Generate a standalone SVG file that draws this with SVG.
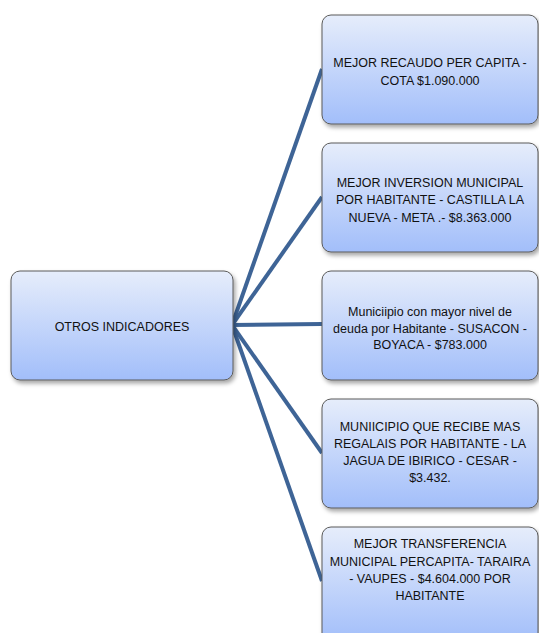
<svg xmlns="http://www.w3.org/2000/svg" width="539" height="633" viewBox="0 0 539 633">
<defs>
<linearGradient id="g" x1="0" y1="0" x2="0" y2="1">
<stop offset="0" stop-color="#e6edfb"/>
<stop offset="1" stop-color="#a2befa"/>
</linearGradient>
<filter id="sh" x="-10%" y="-10%" width="130%" height="140%">
<feDropShadow dx="2" dy="3" stdDeviation="2" flood-color="#000" flood-opacity="0.35"/>
</filter>
</defs>
<style>
.box{fill:url(#g);stroke:#5a5a5a;stroke-width:1;filter:url(#sh)}
.t{font-family:"Liberation Sans",Arial,sans-serif;font-size:12.5px;fill:#111;text-anchor:middle}
.c{stroke:#3e6496;stroke-width:4;fill:none;stroke-linecap:butt}
</style>
<rect width="539" height="633" fill="#fff"/>
<g id="connectors">
<line class="c" x1="232" y1="325" x2="322" y2="69"/>
<line class="c" x1="232" y1="325" x2="322" y2="197"/>
<line class="c" x1="232" y1="325" x2="322" y2="324"/>
<line class="c" x1="232" y1="325" x2="322" y2="453"/>
<line class="c" x1="232" y1="325" x2="322" y2="581"/>
</g>
<g id="root">
<rect class="box" x="11" y="271" width="222" height="109" rx="9"/>
<text class="t" x="122" y="331">OTROS INDICADORES</text>
</g>
<g id="n1">
<rect class="box" x="322" y="15" width="216" height="109" rx="9"/>
<text class="t" x="430" y="67">MEJOR RECAUDO PER CAPITA -</text>
<text class="t" x="430" y="84.5">COTA $1.090.000</text>
</g>
<g id="n2">
<rect class="box" x="322" y="143" width="216" height="109" rx="9"/>
<text class="t" x="430" y="186.5">MEJOR INVERSION MUNICIPAL</text>
<text class="t" x="430" y="204">POR HABITANTE - CASTILLA LA</text>
<text class="t" x="430" y="221.5">NUEVA - META .- $8.363.000</text>
</g>
<g id="n3">
<rect class="box" x="322" y="271" width="216" height="109" rx="9"/>
<text class="t" x="430" y="316">Municiipio con mayor nivel de</text>
<text class="t" x="430" y="332.5">deuda por Habitante - SUSACON -</text>
<text class="t" x="430" y="349">BOYACA - $783.000</text>
</g>
<g id="n4">
<rect class="box" x="322" y="399" width="216" height="109" rx="9"/>
<text class="t" x="430" y="431">MUNIICIPIO QUE RECIBE MAS</text>
<text class="t" x="430" y="448">REGALAIS POR HABITANTE - LA</text>
<text class="t" x="430" y="465">JAGUA DE IBIRICO - CESAR -</text>
<text class="t" x="430" y="482">$3.432.</text>
</g>
<g id="n5">
<rect class="box" x="322" y="527" width="216" height="115" rx="9"/>
<text class="t" x="430" y="548">MEJOR TRANSFERENCIA</text>
<text class="t" x="430" y="566">MUNICIPAL PERCAPITA- TARAIRA</text>
<text class="t" x="430" y="583">- VAUPES - $4.604.000 POR</text>
<text class="t" x="430" y="600">HABITANTE</text>
</g>
</svg>
